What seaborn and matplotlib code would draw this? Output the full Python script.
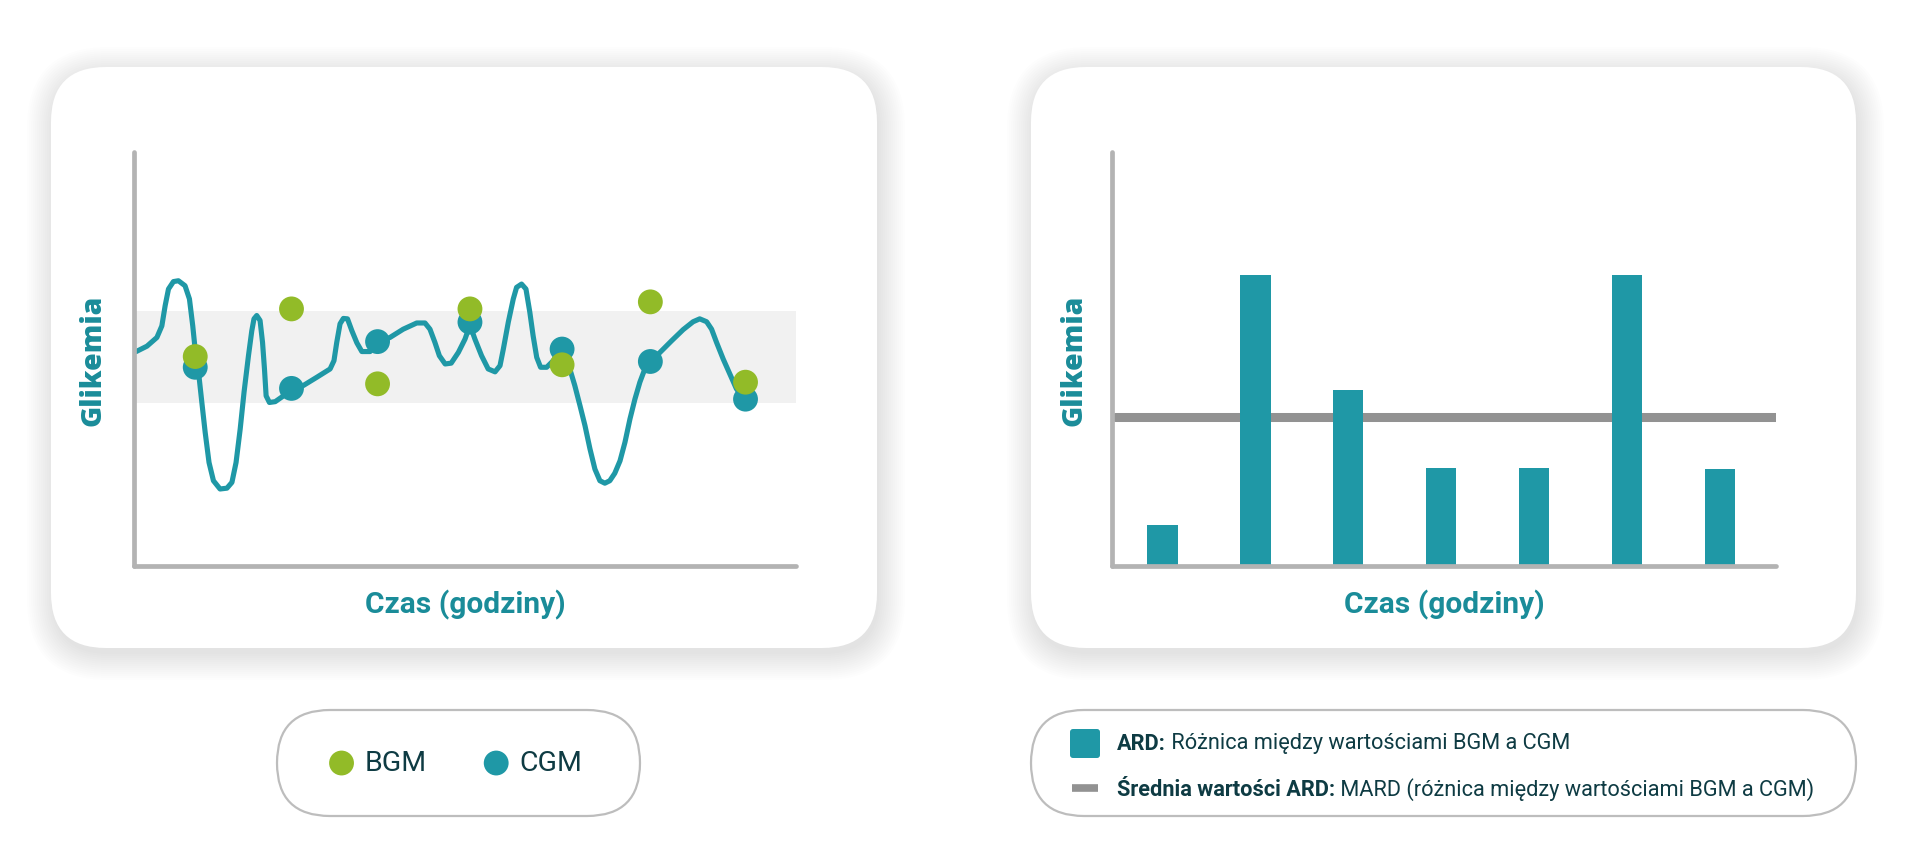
import matplotlib
matplotlib.use("Agg")
import matplotlib.pyplot as plt
from matplotlib.patches import FancyBboxPatch
import seaborn as sns

# CGM trace (time in hours, glycaemia in chart units 0-100)
curve_t = [0.08, 0.47, 0.83, 1.01, 1.13, 1.25, 1.43, 1.61, 1.85, 2.01, 2.13, 2.24, 2.34, 2.46,
           2.58, 2.72, 2.88, 3.12, 3.37, 3.55, 3.70, 3.85, 3.99, 4.15, 4.27, 4.35, 4.45, 4.57,
           4.66, 4.73, 4.79, 4.91, 5.12, 5.42, 5.72, 6.14, 6.63, 7.11, 7.25, 7.35, 7.47, 7.59,
           7.74, 7.90, 8.08, 8.26, 8.56, 8.86, 9.28, 9.76, 10.25, 10.55, 10.73, 10.91, 11.07,
           11.28, 11.50, 11.76, 12.00, 12.18, 12.36, 12.60, 12.84, 13.09, 13.27, 13.39, 13.57,
           13.75, 13.87, 14.05, 14.21, 14.35, 14.47, 14.60, 14.74, 14.96, 15.20, 15.50, 15.80,
           15.98, 16.17, 16.35, 16.53, 16.71, 16.89, 17.07, 17.25, 17.43, 17.62, 17.80, 17.98,
           18.16, 18.34, 18.52, 18.74, 19.07, 19.49, 19.91, 20.27, 20.51, 20.76, 20.94, 21.12,
           21.36, 21.60, 21.84, 22.12]
curve_g = [51.8, 53.1, 55.2, 58.0, 62.9, 66.9, 68.7, 68.9, 67.7, 64.5, 58.0, 50.8, 46.8, 39.5,
           32.3, 25.0, 20.6, 18.6, 18.8, 20.2, 25.0, 33.1, 42.0, 50.8, 56.8, 59.7, 60.5, 59.3,
           54.0, 47.6, 41.1, 39.5, 39.7, 41.1, 42.8, 43.6, 45.6, 47.6, 49.6, 54.0, 58.5, 59.8,
           59.7, 56.8, 53.9, 51.8, 51.8, 54.2, 55.2, 57.2, 58.7, 58.7, 57.2, 54.0, 50.8,
           48.8, 49.0, 51.6, 54.8, 58.2, 54.8, 50.8, 47.6, 46.9, 48.4, 52.4, 58.9,
           64.5, 67.3, 68.1, 66.9, 61.3, 55.6, 50.4, 48.0, 48.0, 49.6, 52.4, 47.6,
           43.6, 38.7, 33.9, 28.3, 23.4, 20.6, 20.0, 20.6, 22.4, 25.4, 29.9, 35.5,
           40.3, 44.4, 47.6, 49.4, 51.6, 54.4, 57.1, 59.0, 59.7, 59.0, 57.2, 54.0,
           50.0, 46.4, 42.8, 40.3]

# paired measurements
meas_t = [2.22, 5.71, 8.83, 12.18, 15.52, 18.72, 22.17]
cgm_g = [48.0, 42.9, 54.2, 58.9, 52.4, 49.4, 40.3]
bgm_g = [50.6, 62.1, 44.0, 62.1, 48.6, 63.8, 44.4]
target_low, target_high = 39.3, 61.7

# ARD per measurement and the mean (MARD)
ard_slots = ["1", "2", "3", "4", "5", "6", "7"]
ard = [10.0, 70.4, 42.4, 23.6, 23.7, 70.4, 23.5]
mard = 35.9

TEAL = "#1F98A6"
GREEN = "#92BB28"
LABEL = "#1A8C99"
DARK = "#0E3B43"
AXIS_GRAY = "#B3B3B3"
W, H = 1920, 854

sns.set_style("white")
plt.rcParams["font.family"] = ["Roboto", "DejaVu Sans"]

fig = plt.figure(figsize=(W / 100, H / 100), dpi=100)
fig.patch.set_facecolor("white")

bg = fig.add_axes([0, 0, 1, 1], zorder=0)
bg.set_xlim(0, W)
bg.set_ylim(H, 0)
bg.axis("off")


def card(x0, y0, x1, y1, r=55):
    # soft drop shadow
    for i in range(14):
        g = 2.0 * i
        bg.add_patch(FancyBboxPatch((x0 - g + 2, y0 - g + 6), x1 - x0 + 2 * g, y1 - y0 + 2 * g,
                                    boxstyle=f"round,pad=0,rounding_size={r + g}",
                                    facecolor="black", edgecolor="none", alpha=0.009))
    bg.add_patch(FancyBboxPatch((x0, y0), x1 - x0, y1 - y0,
                                boxstyle=f"round,pad=0,rounding_size={r}",
                                facecolor="white", edgecolor="none"))


def pill(x0, y0, x1, y1):
    r = (y1 - y0) / 2
    bg.add_patch(FancyBboxPatch((x0, y0), x1 - x0, y1 - y0,
                                boxstyle=f"round,pad=0,rounding_size={r}",
                                facecolor="white", edgecolor="#BDBDBD", linewidth=1.6))


def px_axes(x0, y0, x1, y1):
    a = fig.add_axes([x0 / W, 1 - y1 / H, (x1 - x0) / W, (y1 - y0) / H], zorder=2)
    a.set_facecolor("none")
    return a


def style_axes(a):
    for s in ["top", "right"]:
        a.spines[s].set_visible(False)
    for s in ["left", "bottom"]:
        a.spines[s].set_color(AXIS_GRAY)
        a.spines[s].set_linewidth(3.4)
        a.spines[s].set_capstyle("round")
    a.set_xticks([])
    a.set_yticks([])
    a.set_ylabel("Glikemia", fontsize=20.5, fontweight="heavy", color=LABEL,
                 family=["Open Sans", "DejaVu Sans"], va="center")
    a.set_xlabel("Czas (godziny)", fontsize=21.5, fontweight="semibold", color=LABEL,
                 va="center")


card(51, 68, 877, 649)
card(1031, 68, 1856, 649)

# ---- left: CGM trace vs BGM points ----
ax1 = px_axes(134, 153, 796, 567)
ax1.axhspan(target_low, target_high, xmin=0, xmax=1.0, color="#F1F1F1", zorder=0, lw=0)
sns.lineplot(x=curve_t, y=curve_g, sort=False, color=TEAL, linewidth=3.7, ax=ax1,
             solid_joinstyle="round", solid_capstyle="round", zorder=2)
sns.scatterplot(x=meas_t, y=cgm_g, s=320, color=TEAL, edgecolor="none", ax=ax1,
                label="CGM", zorder=3)
sns.scatterplot(x=meas_t, y=bgm_g, s=320, color=GREEN, edgecolor="none", ax=ax1,
                label="BGM", zorder=4)
ax1.set_xlim(0, 24)
ax1.set_ylim(0, 100)
style_axes(ax1)
ax1.yaxis.set_label_coords(-0.062, 0.5)
ax1.xaxis.set_label_coords(0.5, -0.092)
handles, labels = ax1.get_legend_handles_labels()
ax1.get_legend().remove()

# ---- right: ARD bars with MARD line ----
ax2 = px_axes(1112, 153, 1776, 567)
sns.barplot(x=ard_slots, y=ard, color=TEAL, saturation=1, width=0.325, linewidth=0,
            ax=ax2, zorder=2)
ax2.axhline(mard, xmin=0.005, xmax=1.0, color="#929292", linewidth=6.5,
            solid_capstyle="round", zorder=1)
ax2.set_xlim(-0.543, 6.60)
ax2.set_ylim(0, 100)
style_axes(ax2)
ax2.yaxis.set_label_coords(-0.057, 0.5)
ax2.xaxis.set_label_coords(0.5, -0.092)

# ---- legends ----
pill(277, 711, 640, 817)
fig.legend(handles[::-1], labels[::-1], loc="center",
           bbox_to_anchor=(456 / W, 1 - 764 / H), ncol=2, frameon=False,
           fontsize=20.5, handlelength=0.85, handletextpad=0.4, columnspacing=2.0,
           labelcolor=DARK)

pill(1031, 711, 1856, 817)
bg.add_patch(FancyBboxPatch((1070, 730), 30, 29, boxstyle="round,pad=0,rounding_size=3",
                            facecolor=TEAL, edgecolor="none"))
bg.plot([1072, 1098], [789, 789], color="#929292", linewidth=5.5, solid_capstyle="butt")
t1 = bg.text(1117, 744, "ARD:", fontsize=15.7, fontweight="bold", color=DARK,
             va="center", ha="left")
bg.annotate(" Różnica między wartościami BGM a CGM", xy=(1, 0.5), xycoords=t1,
            fontsize=15.7, color=DARK, va="center", ha="left")
t2 = bg.text(1117, 790, "Średnia wartości ARD:", fontsize=15.7, fontweight="bold",
             color=DARK, va="center", ha="left")
bg.annotate(" MARD (różnica między wartościami BGM a CGM)", xy=(1, 0.5), xycoords=t2,
            fontsize=15.7, color=DARK, va="center", ha="left")

fig.savefig("out.png", dpi=100, facecolor="white")
